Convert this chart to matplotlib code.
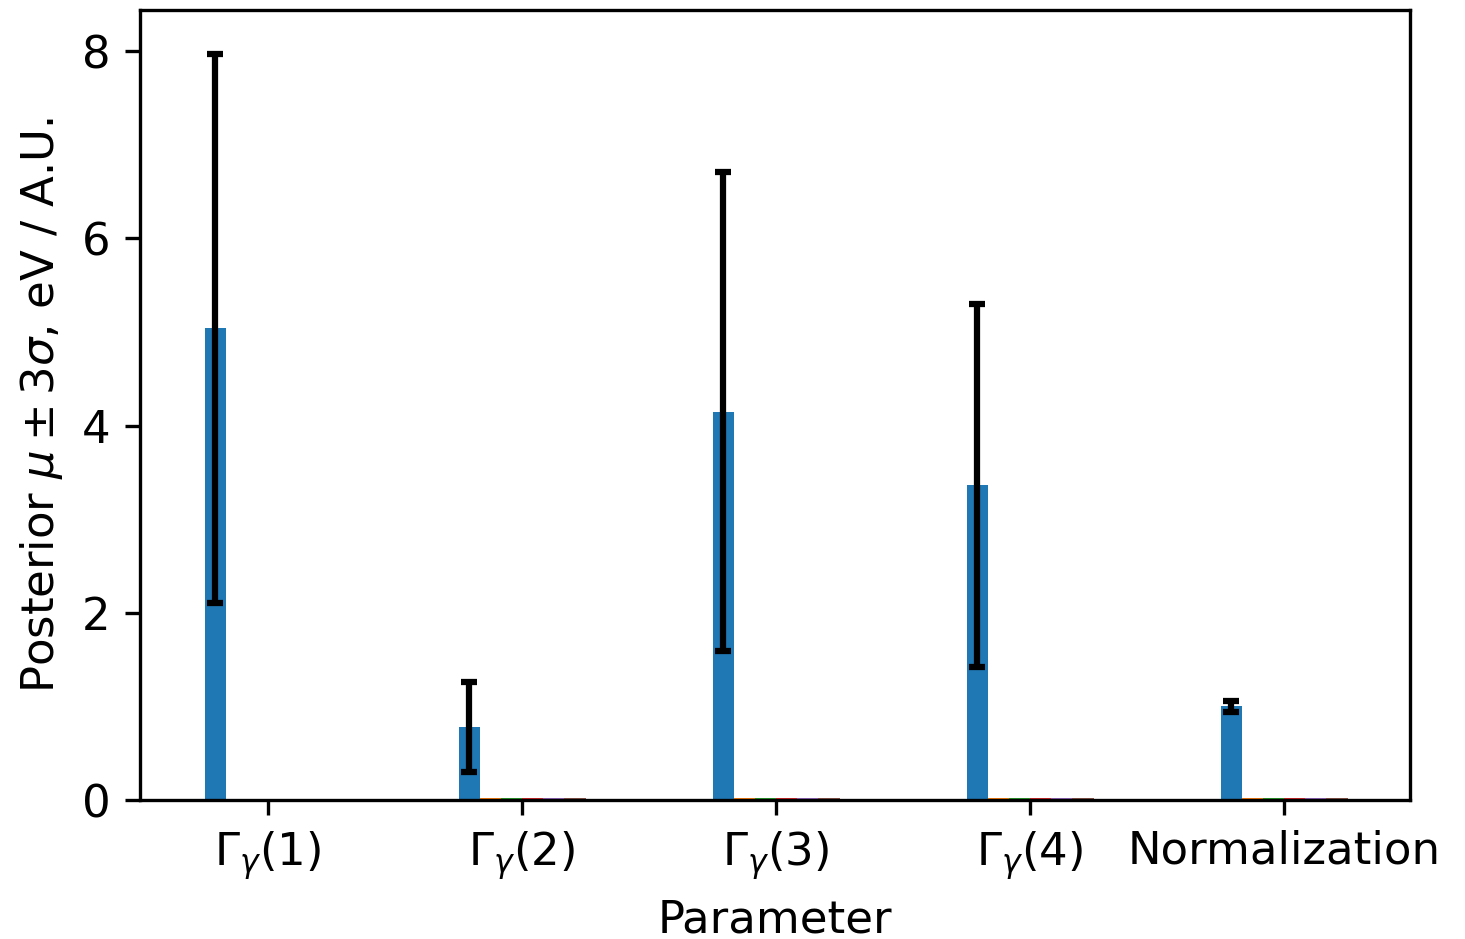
import matplotlib
matplotlib.use("Agg")
import matplotlib.pyplot as plt
import numpy as np

plt.rcParams["font.size"] = 10.8

# parameter names and posterior values
labels = [r"$\Gamma_{\gamma}(1)$", r"$\Gamma_{\gamma}(2)$", r"$\Gamma_{\gamma}(3)$",
          r"$\Gamma_{\gamma}(4)$", "Normalization"]
mu = [5.04, 0.78, 4.15, 3.36, 1.00]
sigma3 = [2.93, 0.48, 2.56, 1.94, 0.055]

# the other series are almost zero
others = [
    [0.0, 0.025, 0.025, 0.025, 0.025],
    [0.0, 0.025, 0.025, 0.025, 0.025],
    [0.0, 0.025, 0.025, 0.025, 0.025],
    [0.0, 0.025, 0.025, 0.025, 0.025],
    [0.0, 0.025, 0.025, 0.025, 0.025],
]

dpi = 300
fig = plt.figure(figsize=(1465 / dpi, 939 / dpi), dpi=dpi)
ax = fig.add_axes([140 / 1465, 139 / 939, 1270 / 1465, 790 / 939])

x = np.arange(len(labels))
n = 1 + len(others)
w = 0.5 / n

x0 = x + (0 - (n - 1) / 2) * w
ax.bar(x0, mu, width=w, color="C0")
ax.errorbar(x0, mu, yerr=sigma3, fmt="none", ecolor="black", capsize=2, elinewidth=1.5, capthick=1.5)
for j, vals in enumerate(others, start=1):
    ax.bar(x + (j - (n - 1) / 2) * w, vals, width=w, color=f"C{j}")

ax.set_xticks(x)
ax.set_xticklabels(labels)
ax.set_yticks([0, 2, 4, 6, 8])
ax.set_xlim(-0.504, 4.496)
ax.set_ylim(0, 8.44)
ax.set_xlabel("Parameter")
ax.set_ylabel(r"Posterior $\mu \pm 3\sigma$, eV / A.U.")

fig.savefig("out.png", dpi=dpi)
